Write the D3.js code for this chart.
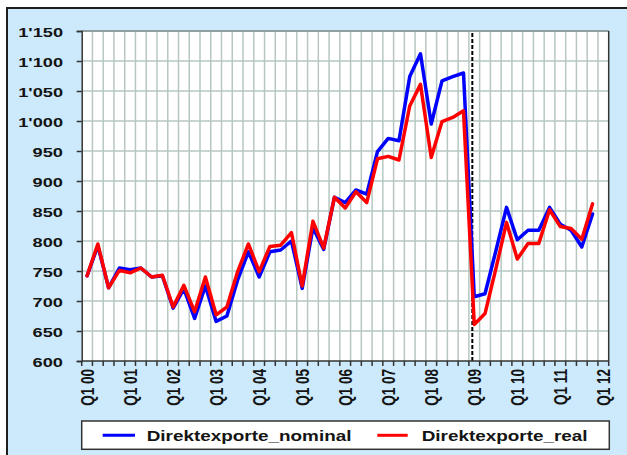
<!DOCTYPE html>
<html>
<head>
<meta charset="utf-8">
<script src="https://cdn.jsdelivr.net/npm/d3@7"></script>
<style>
  html, body { margin: 0; padding: 0; background: #ffffff; }
  svg { display: block; }
  text { font-family: "Liberation Sans", Arial, sans-serif; font-weight: bold; fill: #141414; }
</style>
</head>
<body>
<svg id="chart" width="627" height="455"></svg>
<script>
// ---- data ----
const years = ["00","01","02","03","04","05","06","07","08","09","10","11","12"];
const quarters = ["Q1","Q2","Q3","Q4"];
const categories = [];
years.forEach(y => quarters.forEach(q => { if (!(y === "12" && q !== "Q1")) categories.push(q + " " + y); }));
const tickLabels = years.map(y => "Q1 " + y);
const yTicks = [600,650,700,750,800,850,900,950,1000,1050,1100,1150];

const nominal = [742,792,722,755,752,755,740,742,688,720,671,725,
                 666,675,735,782,740,782,785,800,721,822,786,873,
                 864,885,878,949,971,967,1074,1112,995,1067,1074,1080,
                 707,712,783,856,802,818,818,856,828,818,790,845];
const real    = [742,795,722,751,747,755,740,743,690,726,682,740,
                 677,690,749,795,749,791,793,814,725,833,788,873,
                 855,882,864,937,941,935,1025,1061,939,999,1006,1017,
                 661,679,753,831,770,796,796,852,824,821,803,862];
const seriesNames = ["Direktexporte_nominal", "Direktexporte_real"];
const seriesColors = ["#0000ff", "#ff0000"];
const breakCategory = "Q1 09";

// ---- layout ----
const svg = d3.select("#chart");
const L = 81.7, R = 608.7, T = 31, B = 361;
const SX = 1.35;

svg.append("rect").attr("x", 7).attr("y", 8).attr("width", 640).attr("height", 470)
  .attr("fill", "#cdeafc").attr("stroke", "#1e1e1e").attr("stroke-width", 2);

const x = d3.scaleBand().domain(categories).range([L, R]).padding(0);
const y = d3.scaleLinear().domain([600, 1150]).range([B, T]);
const bw = x.bandwidth();

svg.append("rect").attr("x", L).attr("y", T).attr("width", R - L).attr("height", B - T).attr("fill", "#ffffff");

// grid
const g = svg.append("g");
g.selectAll("line.vg").data(categories.slice(1)).join("line")
  .attr("x1", d => x(d)).attr("x2", d => x(d)).attr("y1", T).attr("y2", B)
  .attr("stroke", "#b6c7c1").attr("stroke-width", 1.5);
g.selectAll("line.hg").data(yTicks.slice(1)).join("line")
  .attr("x1", L).attr("x2", R).attr("y1", d => y(d)).attr("y2", d => y(d))
  .attr("stroke", "#b6c7c1").attr("stroke-width", 1.5);

// plot border top/right
svg.append("line").attr("x1", L).attr("x2", R).attr("y1", T).attr("y2", T).attr("stroke", "#7f8e8e").attr("stroke-width", 1.5);
svg.append("line").attr("x1", R).attr("x2", R).attr("y1", T).attr("y2", B).attr("stroke", "#333").attr("stroke-width", 1.5);

// dashed break line
const bx = x(breakCategory) + bw * 0.32;
svg.append("line").attr("x1", bx).attr("x2", bx).attr("y1", T + 2).attr("y2", B)
  .attr("stroke", "#000").attr("stroke-width", 2).attr("stroke-dasharray", "4,2");

// lines
const line = d3.line().x((d, i) => x(categories[i]) + bw / 2).y(d => y(d));
[nominal, real].forEach((s, k) => {
  svg.append("path").datum(s).attr("d", line).attr("fill", "none")
    .attr("stroke", seriesColors[k]).attr("stroke-width", 3.5)
    .attr("stroke-linejoin", "round").attr("stroke-linecap", "round");
});

// y axis
const fmt = d3.formatLocale({decimal: ".", thousands: "'", grouping: [3], currency: ["", ""]}).format(",");
const yAxis = d3.axisLeft(y).tickValues(yTicks).tickSize(5).tickFormat(fmt);
const ya = svg.append("g").attr("transform", `translate(${L},0)`).call(yAxis);
ya.select(".domain").attr("stroke", "#333").attr("stroke-width", 1.5);
ya.selectAll(".tick line").attr("stroke", "#333").attr("stroke-width", 1.5);
ya.selectAll(".tick text")
  .attr("x", null).attr("dy", null)
  .attr("text-anchor", "end").attr("dominant-baseline", "central")
  .attr("font-size", "13.5px")
  .attr("transform", `translate(${63 - L},0) scale(${SX},1)`);

// x axis (ticks at category boundaries)
const boundaries = categories.map(c => x(c)).concat([R]);
svg.append("line").attr("x1", L).attr("x2", R).attr("y1", B).attr("y2", B).attr("stroke", "#333").attr("stroke-width", 1.5);
svg.selectAll("line.xt").data(boundaries).join("line")
  .attr("x1", d => d).attr("x2", d => d).attr("y1", B).attr("y2", B + 5)
  .attr("stroke", "#333").attr("stroke-width", 1.5);
svg.selectAll("text.xl").data(tickLabels).join("text")
  .attr("transform", d => `translate(${x(d) + bw / 2},369) scale(${SX},1) rotate(-90)`)
  .attr("text-anchor", "end").attr("dominant-baseline", "central")
  .attr("font-size", "13.5px").text(d => d);

// legend
svg.append("rect").attr("x", L).attr("y", 421).attr("width", 609.3 - L).attr("height", 28.3)
  .attr("fill", "#fff").attr("stroke", "#333").attr("stroke-width", 1.5);
const legendItems = [
  {x1: 102.7, x2: 135, tx: 146.7},
  {x1: 377.3, x2: 407.7, tx: 421.7}
];
legendItems.forEach((it, k) => {
  svg.append("line").attr("x1", it.x1).attr("x2", it.x2).attr("y1", 435.3).attr("y2", 435.3)
    .attr("stroke", seriesColors[k]).attr("stroke-width", 3);
  svg.append("text").attr("transform", `translate(${it.tx},440.5) scale(${SX},1)`)
    .attr("font-size", "14px").text(seriesNames[k]);
});
</script>
</body>
</html>
